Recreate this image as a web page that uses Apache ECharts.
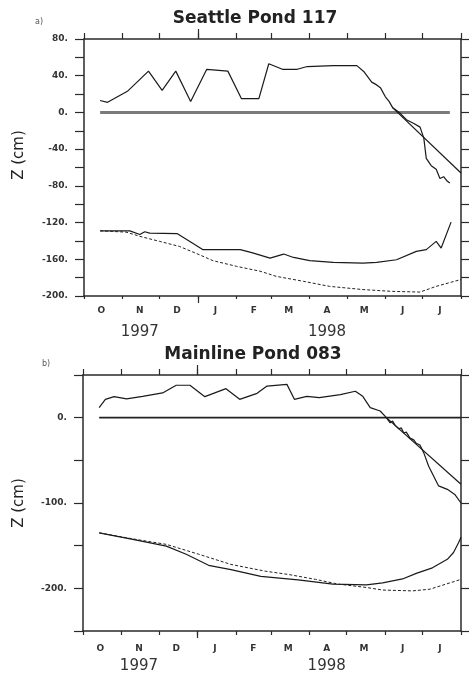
<!DOCTYPE html>
<html><head><meta charset="utf-8">
<script src="https://cdn.jsdelivr.net/npm/echarts@6/dist/echarts.min.js"></script>
<style>html,body{margin:0;padding:0;background:#fff}#c{width:469px;height:673px}</style>
</head><body><div id="c"></div>
<script>
// ---- axis definitions ----
const monthStarts = ['1997-10-01','1997-11-01','1997-12-01','1998-01-01','1998-02-01','1998-03-01','1998-04-01','1998-05-01','1998-06-01','1998-07-01','1998-08-01'];
const monthLabelDates = ['1997-10-15','1997-11-15','1997-12-15','1998-01-15','1998-02-15','1998-03-15','1998-04-15','1998-05-15','1998-06-15','1998-07-15'];
const monthLabels = ['O','N','D','J','F','M','A','M','J','J'];
const yearLabels = ['', '1997', '', '', '', '', '1998', '', '', ''];
const yearBoundary = '1998-01-01';

// ---- a) Seattle Pond 117 ----
const seattleWaterDates = ['1997-10-14','1997-10-20','1997-11-05','1997-11-22','1997-12-03','1997-12-14','1997-12-26','1998-01-08','1998-01-25','1998-02-05','1998-02-19','1998-02-27','1998-03-10','1998-03-22','1998-03-30','1998-04-20','1998-05-09','1998-05-15','1998-05-21','1998-05-25','1998-05-28','1998-06-01','1998-06-04','1998-06-07','1998-06-13','1998-06-18','1998-06-24','1998-06-29','1998-07-02','1998-07-04','1998-07-08','1998-07-12','1998-07-15','1998-07-18','1998-07-21','1998-07-23'];
const seattleWaterZ = [13,11,23,45,24,45,12,47,45,15,15,53,47,47,50,51,51,44,33,30,27,17,12,5,-1,-8,-12,-16,-28,-50,-58,-62,-72,-70,-75,-77];
const seattleModelDates = ['1998-06-07','1998-08-01'];
const seattleModelZ = [5,-66];
const seattleZeroDates = ['1997-10-14','1998-07-23'];
const seattleZeroZ = [0,0];
const seattleSoilDates = ['1997-10-14','1997-11-07','1997-11-15','1997-11-19','1997-11-23','1997-12-15','1997-12-27','1998-01-05','1998-02-04','1998-02-14','1998-02-28','1998-03-11','1998-03-19','1998-04-01','1998-04-20','1998-05-14','1998-05-25','1998-06-10','1998-06-26','1998-07-04','1998-07-12','1998-07-16','1998-07-24'];
const seattleSoilZ = [-129,-129,-133,-130,-131.5,-132,-142,-149.5,-149.5,-153,-158.7,-154.3,-158,-161.5,-163.4,-164.2,-163.4,-160.5,-151.4,-149.5,-140.5,-147.8,-119.5];
const seattleSoilModelDates = ['1997-10-14','1997-11-04','1997-11-15','1997-12-01','1997-12-17','1998-01-02','1998-01-13','1998-02-01','1998-02-20','1998-03-05','1998-03-27','1998-04-17','1998-05-14','1998-06-07','1998-06-29','1998-07-12','1998-08-01'];
const seattleSoilModelZ = [-129,-130.4,-135,-140.5,-146,-155,-161.5,-167.7,-173,-178.6,-184,-189.5,-193,-195,-195.7,-189.5,-182];

// ---- b) Mainline Pond 083 ----
const mainlineWaterDates = ['1997-10-14','1997-10-19','1997-10-26','1997-11-05','1997-11-18','1997-12-04','1997-12-15','1997-12-26','1998-01-07','1998-01-24','1998-02-04','1998-02-18','1998-02-26','1998-03-14','1998-03-20','1998-03-30','1998-04-09','1998-04-26','1998-05-08','1998-05-14','1998-05-20','1998-05-28','1998-06-02','1998-06-05','1998-06-07','1998-06-09','1998-06-12','1998-06-14','1998-06-16','1998-06-18','1998-06-21','1998-06-24','1998-06-26','1998-06-29','1998-07-02','1998-07-06','1998-07-14','1998-07-21','1998-07-27','1998-08-01'];
const mainlineWaterZ = [11.7,21.5,24.6,22,25,29,38,38,24.6,34,21.5,28.5,37,39,21.5,25,23.4,27,31,25,11.7,7.8,0,-6,-4,-9,-13,-12,-18,-17,-24,-26,-30,-32,-41,-57,-80,-84,-90,-100];
const mainlineModelDates = ['1998-06-02','1998-08-01'];
const mainlineModelZ = [0,-78];
const mainlineZeroDates = ['1997-10-14','1998-08-01'];
const mainlineZeroZ = [0,0];
const mainlineSoilDates = ['1997-10-14','1997-11-10','1997-12-07','1997-12-23','1998-01-10','1998-01-28','1998-02-21','1998-03-23','1998-04-20','1998-05-17','1998-05-30','1998-06-15','1998-06-26','1998-07-09','1998-07-21','1998-07-26','1998-07-30','1998-08-01'];
const mainlineSoilZ = [-135,-142.6,-150.5,-160,-173,-178,-186,-190,-195,-196,-193.5,-189,-182.5,-176,-166,-158,-146.5,-140];
const mainlineSoilModelDates = ['1997-10-14','1997-11-10','1997-12-07','1998-01-02','1998-01-28','1998-02-25','1998-03-15','1998-04-06','1998-04-24','1998-05-17','1998-05-30','1998-06-23','1998-07-07','1998-08-01'];
const mainlineSoilModelZ = [-135,-142,-148.5,-160,-172,-180,-183.7,-189.5,-195,-199,-202,-203,-201,-189.5];

// ---- build daily categories ----
const DAY = 86400000;
const t0 = Date.parse(monthStarts[0] + 'T00:00:00Z');
const t1 = Date.parse(monthStarts[monthStarts.length - 1] + 'T00:00:00Z');
const days = [];
for (let t = t0; t <= t1; t += DAY) days.push(new Date(t).toISOString().slice(0, 10));
const idx = d => Math.round((Date.parse(d + 'T00:00:00Z') - t0) / DAY);
const pts = (ds, vs) => ds.map((d, i) => [idx(d), vs[i]]);
const monthTickSet = new Set(monthStarts.map(idx));
const janTick = idx(yearBoundary);
const labelMap = {};
monthLabelDates.forEach((d, i) => { labelMap[idx(d)] = i; });

const AX = '#2a2a2a';
const FONT = 'DejaVu Sans';

function xAxes(grid, tickLenBottom, margin, yearLH) {
  const base = { type: 'category', data: days, boundaryGap: false, gridIndex: grid };
  return [
    Object.assign({}, base, {
      position: 'bottom',
      axisLine: { onZero: false, lineStyle: { color: AX, width: 1.5 } },
      axisTick: { show: true, length: tickLenBottom, interval: i => monthTickSet.has(i), lineStyle: { color: AX, width: 1.2 } },
      axisLabel: {
        show: true, margin: margin, interval: i => labelMap[i] !== undefined, hideOverlap: false,
        formatter: (v, i) => {
          const k = labelMap[i];
          if (k === undefined) return '';
          return yearLabels[k] ? '{m|' + monthLabels[k] + '}\n{y|' + yearLabels[k] + '}' : '{m|' + monthLabels[k] + '}';
        },
        rich: {
          m: { fontSize: 9, fontWeight: 'bold', color: '#333', fontFamily: FONT, lineHeight: 12 },
          y: { fontSize: 15, color: '#333', fontFamily: FONT, lineHeight: yearLH }
        }
      },
      splitLine: { show: false }
    }),
    Object.assign({}, base, {
      position: 'bottom',
      axisLine: { show: false, onZero: false },
      axisTick: { show: true, length: 7, interval: i => i === janTick, lineStyle: { color: AX, width: 1.2 } },
      axisLabel: { show: false }, splitLine: { show: false }
    }),
    Object.assign({}, base, {
      position: 'top',
      axisLine: { onZero: false, lineStyle: { color: AX, width: 1.5 } },
      axisTick: { show: true, length: 6, interval: i => monthTickSet.has(i), lineStyle: { color: AX, width: 1.2 } },
      axisLabel: { show: false }, splitLine: { show: false }
    }),
    Object.assign({}, base, {
      position: 'top',
      axisLine: { show: false, onZero: false },
      axisTick: { show: true, length: 10, interval: i => i === janTick, lineStyle: { color: AX, width: 1.2 } },
      axisLabel: { show: false }, splitLine: { show: false }
    })
  ];
}

function yAxes(grid, min, max, interval, fmt) {
  const base = { type: 'value', gridIndex: grid, min: min, max: max, interval: interval, splitLine: { show: false } };
  return [
    Object.assign({}, base, {
      position: 'left',
      axisLine: { show: true, onZero: false, lineStyle: { color: AX, width: 1.5 } },
      axisTick: { show: true, length: 9, lineStyle: { color: AX, width: 1.2 } },
      axisLabel: { show: true, margin: 16, formatter: fmt, fontSize: 9, fontWeight: 'bold', color: '#333', fontFamily: FONT }
    }),
    Object.assign({}, base, {
      position: 'right',
      axisLine: { show: true, onZero: false, lineStyle: { color: AX, width: 1.5 } },
      axisTick: { show: true, length: 9, lineStyle: { color: AX, width: 1.2 } },
      axisLabel: { show: false }
    })
  ];
}

function line(xi, yi, data, opts) {
  return Object.assign({
    type: 'line', xAxisIndex: xi, yAxisIndex: yi, data: data, showSymbol: false, symbol: 'none',
    silent: true, animation: false,
    lineStyle: { color: '#1a1a1a', width: 1.2 }
  }, opts || {});
}

const chart = echarts.init(document.getElementById('c'), null, { renderer: 'canvas' });
chart.setOption({
  animation: false,
  backgroundColor: '#fff',
  grid: [
    { left: 84, top: 39, width: 377, height: 257, outerBoundsMode: 'none' },
    { left: 83, top: 375, width: 378, height: 256, outerBoundsMode: 'none' }
  ],
  xAxis: [].concat(xAxes(0, 3, 9, 30), xAxes(1, 4, 12, 22)),
  yAxis: [].concat(
    yAxes(0, -200, 80, 20, v => (v % 40 === 0 ? v + '.' : '')),
    yAxes(1, -250, 50, 50, v => (v % 100 === 0 ? v + '.' : ''))
  ),
  series: [
    line(0, 0, pts(seattleZeroDates, seattleZeroZ), { lineStyle: { color: '#7a7a7a', width: 3 } }),
    line(0, 0, pts(seattleWaterDates, seattleWaterZ)),
    line(0, 0, pts(seattleModelDates, seattleModelZ)),
    line(0, 0, pts(seattleSoilDates, seattleSoilZ)),
    line(0, 0, pts(seattleSoilModelDates, seattleSoilModelZ), { lineStyle: { color: '#222', width: 1, type: [3, 2] } }),
    line(4, 2, pts(mainlineZeroDates, mainlineZeroZ), { lineStyle: { color: '#222', width: 1.6 } }),
    line(4, 2, pts(mainlineWaterDates, mainlineWaterZ)),
    line(4, 2, pts(mainlineModelDates, mainlineModelZ)),
    line(4, 2, pts(mainlineSoilDates, mainlineSoilZ)),
    line(4, 2, pts(mainlineSoilModelDates, mainlineSoilModelZ), { lineStyle: { color: '#222', width: 1, type: [3, 2] } })
  ],
  graphic: [
    { type: 'text', x: 39, y: 22, style: { text: 'a)', fontSize: 8, fontFamily: FONT, fill: '#555', textAlign: 'center', textVerticalAlign: 'middle' } },
    { type: 'text', x: 255, y: 19, style: { text: 'Seattle Pond 117', fontSize: 17, fontWeight: 'bold', fontFamily: FONT, fill: '#222', textAlign: 'center', textVerticalAlign: 'middle' } },
    { type: 'text', x: 19, y: 155, rotation: Math.PI / 2, style: { text: 'Z (cm)', fontSize: 15, fontFamily: FONT, fill: '#222', textAlign: 'center', textVerticalAlign: 'middle' } },
    { type: 'text', x: 46, y: 364, style: { text: 'b)', fontSize: 8, fontFamily: FONT, fill: '#555', textAlign: 'center', textVerticalAlign: 'middle' } },
    { type: 'text', x: 253, y: 355, style: { text: 'Mainline Pond 083', fontSize: 17, fontWeight: 'bold', fontFamily: FONT, fill: '#222', textAlign: 'center', textVerticalAlign: 'middle' } },
    { type: 'text', x: 19, y: 503, rotation: Math.PI / 2, style: { text: 'Z (cm)', fontSize: 15, fontFamily: FONT, fill: '#222', textAlign: 'center', textVerticalAlign: 'middle' } }
  ]
});
</script>
</body></html>
